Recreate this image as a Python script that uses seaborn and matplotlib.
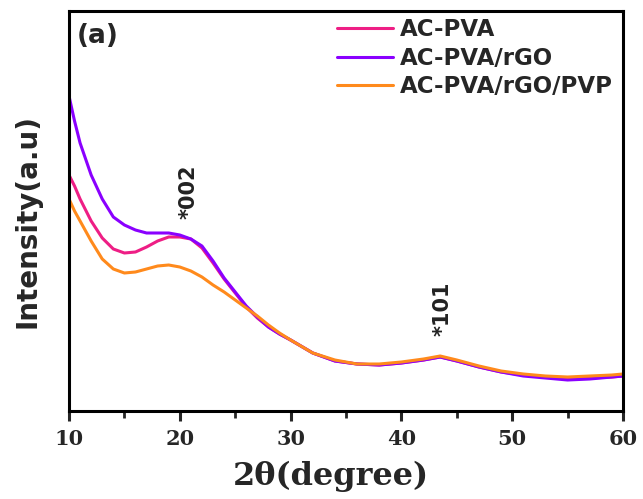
import numpy as np
import pandas as pd
import matplotlib
matplotlib.use("Agg")
import matplotlib.pyplot as plt
import seaborn as sns

two_theta = [10, 10.5, 11, 12, 13, 14, 15, 16, 17, 18, 19, 20, 21, 22, 23, 24, 25,
             26, 27, 28, 29, 30, 32, 34, 36, 38, 40, 42, 43.5, 45, 47, 49, 51, 53,
             55, 57, 59, 60]

ac_pva = [236, 225, 212, 190, 173, 162, 158, 159, 164, 170, 174, 174, 172, 163, 148,
          132, 118, 104, 93, 84, 77, 71, 58, 50, 47, 46, 48, 51, 54, 50, 44, 39, 36,
          34, 32, 33, 34, 35]
ac_pva_rgo = [315, 290, 268, 236, 212, 194, 186, 181, 178, 178, 178, 176, 172, 165,
              150, 133, 119, 105, 94, 84, 77, 71, 58, 50, 47, 46, 48, 51, 54, 50, 44,
              39, 35, 33, 31, 32, 34, 35]
ac_pva_rgo_pvp = [212, 200, 190, 170, 152, 142, 138, 139, 142, 145, 146, 144, 140,
                  134, 126, 119, 111, 103, 95, 86, 78, 71, 58, 51, 47, 47, 49, 52, 55,
                  51, 45, 40, 37, 35, 34, 35, 36, 37]

labels = ["AC-PVA", "AC-PVA/rGO", "AC-PVA/rGO/PVP"]
colors = ["#EE1E85", "#8A00FF", "#FF8A1C"]
annotations = [("*002", 20.75, 219), ("*101", 43.75, 102)]

df = pd.concat([
    pd.DataFrame({"2theta": two_theta, "I": y, "sample": lab})
    for y, lab in zip([ac_pva, ac_pva_rgo, ac_pva_rgo_pvp], labels)
])

sns.set_style("white")
plt.rcParams["font.family"] = ["DejaVu Sans"]

fig = plt.figure(figsize=(6.43, 4.99), dpi=100)
ax = fig.add_axes([69/643, 88/499, (623-69)/643, (411-11)/499])

sns.lineplot(data=df, x="2theta", y="I", hue="sample", hue_order=labels,
             palette=colors, linewidth=2.2, ax=ax, legend=False)

ax.set_xlim(10, 60)
ax.set_ylim(0, 400)
ax.set_yticks([])
ax.set_xticks([10, 20, 30, 40, 50, 60])
ax.set_xticks([15, 25, 35, 45, 55], minor=True)
ax.tick_params(axis="x", which="major", direction="out", length=7, width=2.2,
               bottom=True, pad=6)
ax.tick_params(axis="x", which="minor", direction="out", length=5, width=2,
               bottom=True)
for lab in ax.get_xticklabels():
    lab.set_fontfamily("DejaVu Serif")
    lab.set_fontweight("bold")
    lab.set_fontsize(15)
for s in ax.spines.values():
    s.set_linewidth(2.2)
    s.set_color("black")

ax.set_xlabel("2θ(degree)", fontsize=23, fontweight="bold",
              family="DejaVu Serif")
ax.xaxis.set_label_coords((331 - 69) / 554, -0.125)
ax.set_ylabel("Intensity(a.u)", fontsize=20, fontweight="bold")
ax.yaxis.set_label_coords(-0.05, 0.475)

for txt, x, y in annotations:
    ax.text(x, y, txt, rotation=90, ha="center", va="center", fontsize=15,
            fontweight="bold", color="#222222")

ax.text(8/554, 1 - 12/400, "(a)", transform=ax.transAxes, ha="left", va="top",
        fontsize=19, fontweight="bold")

handles = [plt.Line2D([], [], color=c, lw=2.2) for c in colors]
leg = ax.legend(handles, labels, loc="upper left",
                bbox_to_anchor=(337/643, 1 - 18/499),
                bbox_transform=fig.transFigure,
                frameon=False, prop={"weight": "bold", "size": 16.5},
                handlelength=2.45, handletextpad=0.3, labelspacing=0.25,
                borderaxespad=0, borderpad=0)

fig.savefig("out.png", dpi=100)
